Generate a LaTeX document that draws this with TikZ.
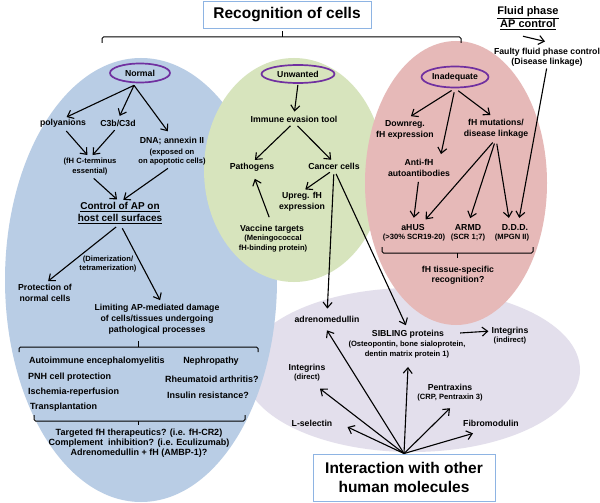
\documentclass[tikz,border=0pt]{standalone}
\usepackage{fontspec}
\setmainfont{Liberation Sans}
\usetikzlibrary{arrows.meta,shapes.geometric}
\definecolor{bgblue}{HTML}{B9CDE5}
\definecolor{bggreen}{HTML}{D7E4BD}
\definecolor{bgred}{HTML}{E6B9B8}
\definecolor{bglav}{HTML}{E3DFEC}
\definecolor{catpurple}{HTML}{7030A0}
\definecolor{boxblue}{HTML}{8EB4E3}
\begin{document}
\begin{tikzpicture}[x=1pt,y=-1pt,
  lbl/.style={font=\bfseries\fontsize{8.7}{11}\selectfont, inner sep=0pt, align=center},
  sub/.style={font=\bfseries\fontsize{7.6}{9.5}\selectfont, inner sep=0pt, align=center},
  item/.style={font=\bfseries\fontsize{9}{10}\selectfont, inner sep=0pt},
  ctl/.style={font=\bfseries\fontsize{10}{12}\selectfont, inner sep=0pt, align=center},
  big/.style={font=\bfseries\fontsize{15.5}{19}\selectfont, draw=boxblue, line width=0.9pt, fill=white, inner sep=0pt, align=center},
  cat/.style={ellipse, draw=catpurple, line width=1.7pt, inner sep=0pt, font=\bfseries\fontsize{8.7}{10}\selectfont},
  arr/.style={-{Straight Barb[length=5.5pt,width=9pt]}, line width=1.1pt, shorten >=4pt, shorten <=5pt},
  arr0/.style={arr, shorten >=0pt, shorten <=0pt},
  brk/.style={line width=1pt, rounded corners=1.5pt},
]
\fill[white] (0,0) rectangle (600,503);
\useasboundingbox (0,0) rectangle (600,503);
% background regions
\fill[bglav] (412,370) ellipse [x radius=168pt, y radius=82pt];
\fill[bgblue] (141,280) ellipse [x radius=136pt, y radius=222pt];
\fill[bggreen] (294,170) ellipse [x radius=90pt, y radius=112pt];
\fill[bgred] (456,183) ellipse [x radius=91pt, y radius=142pt];

% title and top bracket
\node[big, minimum width=168pt, minimum height=27pt] (title) at (287,14.5) {Recognition of cells};
\draw[brk] (102,43) -- (102,37) -- (461,37) -- (461,43);
\draw[brk] (282,37) -- (282,31);

% fluid phase
\node[font=\bfseries\fontsize{11}{13}\selectfont, inner sep=0pt, align=center] (fluid) at (528,18.5) {\underline{Fluid phase}\\\underline{AP control}};
\node[lbl, font=\bfseries\fontsize{8.7}{9.5}\selectfont] (faulty) at (547,57.5) {Faulty fluid phase control\\(Disease linkage)};
\draw[arr0] ([shift={(-5,6)}]fluid.south) -- ([shift={(-2,-7)}]faulty.north);

% Normal (blue)
\node[cat, minimum width=60pt, minimum height=19pt] (normal) at (140,73) {Normal};
\node[lbl] (poly) at (63,123) {polyanions};
\node[lbl] (c3b) at (118,123) {C3b/C3d};
\node[lbl] (dna) at (172,141) {DNA; annexin II};
\node[sub] (dnasub) at (172,157) {(exposed on\\on apoptotic cells)};
\node[sub] (fhc) at (90,166.5) {(fH C-terminus\\essential)};
\node[ctl] (control) at (120,213) {\underline{Control of AP on}\\\underline{host cell surfaces}};
\node[sub] (dimer) at (108,264) {(Dimerization/\\tetramerization)};
\node[lbl] (prot) at (45,292.5) {Protection of\\normal cells};
\node[lbl] (limit) at (157,319) {Limiting AP-mediated damage\\of cells/tissues undergoing\\pathological processes};
\draw[brk] (19,352) -- (19,347) -- (258,347) -- (258,352);
\draw[brk] (138,347) -- (138,341);
\node[item, anchor=west] (i1) at (29,361) {Autoimmune encephalomyelitis};
\node[item, anchor=west] (i2) at (28,377) {PNH cell protection};
\node[item, anchor=west] (i3) at (28,392) {Ischemia-reperfusion};
\node[item, anchor=west] (i4) at (30,407) {Transplantation};
\node[item] (i5) at (211,361) {Nephropathy};
\node[item] (i6) at (212,379) {Rheumatoid arthritis?};
\node[item] (i7) at (208,395) {Insulin resistance?};
\draw[brk] (34,415) -- (34,421) -- (245,421) -- (245,415);
\draw[brk] (138,421) -- (138,425);
\node[item, align=center] (concl) at (139,443) {Targeted fH therapeutics? (i.e. fH-CR2)\\Complement~ inhibition? (i.e. Eculizumab)\\Adrenomedullin + fH (AMBP-1)?};

\draw[arr, shorten <=0pt] ([shift={(-6,2)}]normal.south) -- (poly.north);
\draw[arr, shorten <=0pt] ([shift={(-6,2)}]normal.south) -- (c3b.north);
\draw[arr, shorten <=0pt, shorten >=7pt] ([shift={(-6,2)}]normal.south) -- (dna.north);
\draw[arr] (poly.south) -- (fhc.north);
\draw[arr] (c3b.south) -- (fhc.north);
\draw[arr] (fhc.south) -- (control.north);
\draw[arr] (dnasub.south) -- (control.north);
\draw[arr] (control.south) -- (prot.north);
\draw[arr] (control.south) -- ([shift={(5,0)}]limit.north);

% Unwanted (green)
\node[cat, minimum width=73pt, minimum height=18pt] (unw) at (298,74) {Unwanted};
\node[lbl] (immune) at (294,119) {Immune evasion tool};
\node[lbl] (path) at (252,167) {Pathogens};
\node[lbl] (cancer) at (334,166) {Cancer cells};
\node[lbl] (upreg) at (302,201.5) {Upreg. fH\\expression};
\node[lbl] (vacc) at (272,229) {Vaccine targets};
\node[sub] (vaccsub) at (273,243.5) {(Meningococcal\\fH-binding protein)};
\draw[arr, shorten <=1pt] (unw.south) -- (immune.north);
\draw[arr] (immune.south) -- (path.north);
\draw[arr] (immune.south) -- (cancer.north);
\draw[arr] (cancer.south) -- (upreg.north);
\draw[arr, shorten <=8pt, shorten >=8pt] (vacc.north) -- (path.south);

% Inadequate (red)
\node[cat, minimum width=67pt, minimum height=21pt] (inad) at (455,77) {Inadequate};
\node[lbl] (down) at (405,129.5) {Downreg.\\fH expression};
\node[lbl] (mut) at (496,129) {fH mutations/\\disease linkage};
\node[lbl] (anti) at (419,168) {Anti-fH\\autoantibodies};
\node[lbl] (ahus) at (413,228) {aHUS};
\node[sub] (ahussub) at (414,238) {(>30\% SCR19-20)};
\node[lbl] (armd) at (468,228) {ARMD};
\node[sub] (armdsub) at (468,238) {(SCR 1;7)};
\node[lbl] (ddd) at (515,228) {D.D.D.};
\node[sub] (dddsub) at (512,238) {(MPGN II)};
\draw[brk] (382,247) -- (382,253) -- (533,253) -- (533,247);
\draw[brk] (457,253) -- (457,258);
\node[lbl, font=\bfseries\fontsize{8.7}{10}\selectfont] (tissue) at (458,275) {fH tissue-specific\\recognition?};
\draw[arr, shorten <=4pt, shorten >=7pt] (inad.south) -- (down.north);
\draw[arr, shorten <=4pt, shorten >=7pt] (inad.south) -- (mut.north);
\draw[arr, shorten <=4pt, shorten >=0pt] (inad.south) -- ([shift={(22,-5)}]anti.north);
\draw[arr, shorten >=7pt] (anti.south) -- (ahus.north);
\draw[arr, shorten >=7pt] (mut.south) -- ([shift={(8,0)}]ahus.north);
\draw[arr, shorten >=7pt] (mut.south) -- (armd.north);
\draw[arr, shorten >=7pt] (mut.south) -- ([shift={(-5,0)}]ddd.north);
\draw[arr, shorten <=2pt, shorten >=7pt] (faulty.south) -- ([shift={(3,0)}]ddd.north);

% Interaction (lavender)
\node[lbl] (adreno) at (327,319) {adrenomedullin};
\node[lbl] (sibl) at (408,334) {SIBLING proteins};
\node[sub] (siblsub) at (407,349.5) {(Osteopontin, bone sialoprotein,\\dentin matrix protein 1)};
\node[lbl] (intind) at (510,331) {Integrins};
\node[sub] (intindsub) at (510,341) {(indirect)};
\node[lbl] (intdir) at (307,368) {Integrins};
\node[sub] (intdirsub) at (307,378) {(direct)};
\node[lbl] (pentr) at (450,387) {Pentraxins};
\node[sub] (pentrsub) at (450,398) {(CRP, Pentraxin 3)};
\node[lbl] (lsel) at (312,423) {L-selectin};
\node[lbl] (fibro) at (491,423) {Fibromodulin};
\node[big, minimum width=182pt, minimum height=47pt] (inter) at (404,477.5) {Interaction with other\\human molecules};
\draw[arr, shorten >=7pt] (cancer.south) -- (adreno.north);
\draw[arr, shorten >=5pt] (cancer.south) -- (sibl.north);
\draw[arr, shorten <=16pt, shorten >=3pt] (sibl.east) -- (intind.west);
\draw[arr0] (inter.north) -- ([shift={(15,4)}]lsel.east);
\draw[arr0] (inter.north) -- ([shift={(13,7)}]intdirsub.south);
\draw[arr0] (inter.north) -- ([shift={(0,8)}]adreno.south);
\draw[arr0] (inter.north) -- ([shift={(1,9)}]siblsub.south);
\draw[arr0] (inter.north) -- ([shift={(0,6.5)}]pentrsub.south);
\draw[arr0] (inter.north) -- ([shift={(-18,7)}]fibro.south);
\end{tikzpicture}
\end{document}
